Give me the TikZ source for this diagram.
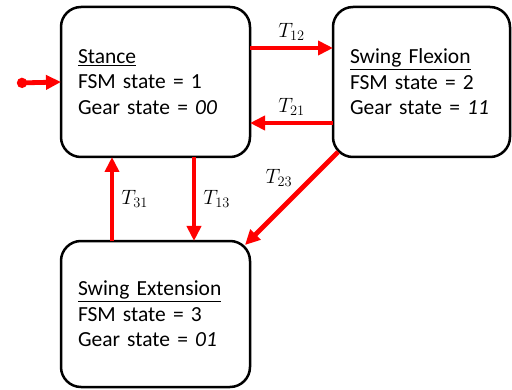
\documentclass[tikz,border=0pt]{standalone}
\usepackage{fontspec}
\setmainfont{Carlito}
\usepackage{xcolor}
\usepackage{tikz}
\usetikzlibrary{positioning, arrows.meta}
\definecolor{arrowred}{HTML}{FF0000}
\tikzset{
  fsmbox/.style={draw=black, line width=2.5pt, rounded corners=20pt, align=left,
                 inner xsep=17pt, outer sep=0pt, text width=155pt, minimum height=150pt},
  trans/.style={draw=arrowred, line width=4.8pt, -{Triangle[length=15pt, width=14pt]}},
  translabel/.style={text=black, inner sep=2pt}
}

\begin{document}
\begin{tikzpicture}[x=1pt, y=1pt, font=\fontsize{21.5}{25.5}\selectfont]
    \useasboundingbox (0,0) rectangle (512,389);
    % states
    \node[fsmbox] (stance) at (155.5,307) {%
      \underline{Stance}\\
      FSM state = 1\\
      Gear state = \textit{00}};
    \node[fsmbox, text width=143pt] (flexion) at (421.5,307) {%
      \underline{Swing Flexion}\\
      FSM state = 2\\
      Gear state = \textit{11}};
    \node[fsmbox, minimum height=146pt] (extension) at (155.5,75) {%
      \underline{Swing Extension}\\
      FSM state = 3\\
      Gear state = \textit{01}};
    % initial state
    \coordinate (init) at (17,306);
    \draw[trans, {Circle[length=10pt]}-{Triangle[length=15pt, width=14pt]}] (init) -- (stance.west);
    % transitions
    \draw[trans] ([yshift=34pt]stance.east) -- node[translabel, above=3pt] (t12) {$T_{12}$} ([yshift=34pt]flexion.west);
    \draw[trans] ([yshift=-41pt]flexion.west) -- node[translabel, above=3pt] (t21) {$T_{21}$} ([yshift=-41pt]stance.east);
    \draw[trans] ([xshift=38.5pt]stance.south) -- node[translabel, right=5pt] (t13) {$T_{13}$} ([xshift=38.5pt]extension.north);
    \draw[trans] ([xshift=-43.5pt]extension.north) -- node[translabel, right=5pt] (t31) {$T_{31}$} ([xshift=-43.5pt]stance.south);
    \draw[trans] ([shift={(5pt,5pt)}]flexion.south west) -- node[translabel, above left=2pt, pos=0.43] (t23) {$T_{23}$} ([shift={(-5pt,-4pt)}]extension.north east);
\end{tikzpicture}
\end{document}
